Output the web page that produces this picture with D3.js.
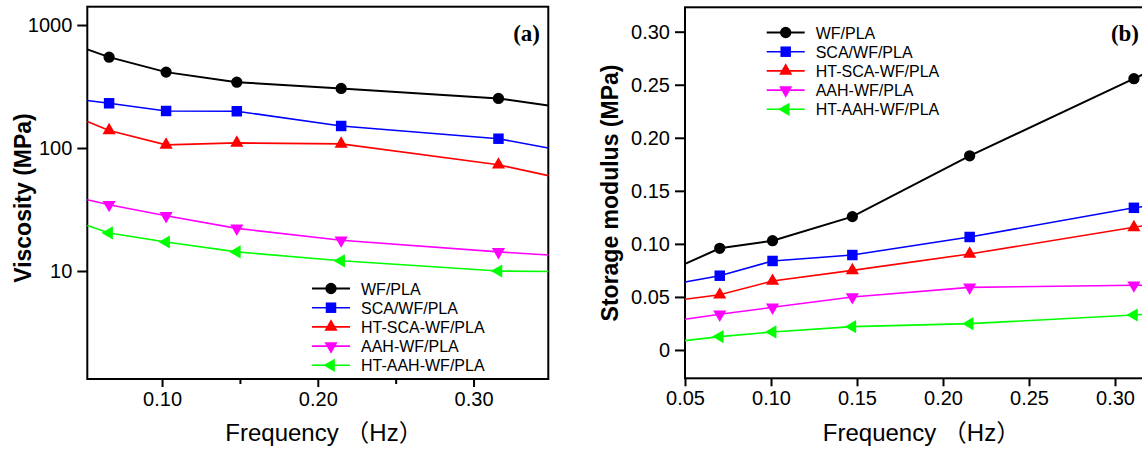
<!DOCTYPE html>
<html>
<head>
<meta charset="utf-8">
<script src="https://cdn.jsdelivr.net/npm/d3@7/dist/d3.min.js"></script>
<style>
    html, body { margin: 0; padding: 0; background: #fff; }
    svg { display: block; }
    text { font-family: "Liberation Sans", Arial, "Noto Sans CJK SC", sans-serif; }
</style>
</head>
<body>
<div id="chart"></div>
<script>
// Rheology of WF/PLA composites - (a) viscosity, (b) storage modulus

// series labels, shared by both panels
const seriesNames = ['WF/PLA', 'SCA/WF/PLA', 'HT-SCA-WF/PLA', 'AAH-WF/PLA', 'HT-AAH-WF/PLA'];

// (a) viscosity, MPa - first and last entries are where the curve meets the frame
const freqA = [0.052, 0.066, 0.1026, 0.148, 0.215, 0.316, 0.348];
const viscWF = [634, 548, 414, 343, 305, 253, 222];
const viscSCA = [243, 231, 200, 199, 151, 119, 100];
const viscHTSCA = [164, 139, 106, 110, 108, 73, 59.6];
const viscAAH = [38, 34.6, 28.1, 22.2, 17.8, 14.3, 13.5];
const viscHTAAH = [23.4, 20.4, 17.2, 14.3, 12.1, 10.0, 9.9];
const viscTicks = [10, 100, 1000];
const freqTicksA = [0.10, 0.20, 0.30];
const freqMinorA = [0.15, 0.25];

// (b) storage modulus, MPa - same layout, curve continues past the cut edge
const freqB = [0.05, 0.0702, 0.1009, 0.1473, 0.2155, 0.311, 0.316];
const modWF = [0.0811, 0.0958, 0.103, 0.1257, 0.183, 0.2557, 0.2595];
const modSCA = [0.064, 0.070, 0.0839, 0.0895, 0.1065, 0.134, 0.135];
const modHTSCA = [0.0478, 0.052, 0.065, 0.075, 0.0905, 0.1156, 0.117];
const modAAH = [0.0289, 0.0336, 0.0402, 0.050, 0.059, 0.061, 0.061];
const modHTAAH = [0.0088, 0.0126, 0.017, 0.022, 0.0248, 0.033, 0.0335];
const modTicks = [0, 0.05, 0.10, 0.15, 0.20, 0.25, 0.30];
const freqTicksB = [0.05, 0.10, 0.15, 0.20, 0.25, 0.30];

const colors = ['#000000', '#0000ff', '#ff0000', '#ff00ff', '#00ff00'];
const lineWidths = [2, 1.6, 1.6, 1.6, 1.6];

// marker shapes: circle, square, up, down, left triangle
const markers = [
    { type: d3.symbolCircle, size: 100, rotate: 0 },
    { type: d3.symbolSquare, size: 110, rotate: 0 },
    { type: d3.symbolTriangle, size: 75, rotate: 0 },
    { type: d3.symbolTriangle, size: 75, rotate: 180 },
    { type: d3.symbolTriangle, size: 75, rotate: -90 }
];

const width = 1142;
const height = 450;

const svg = d3.select('#chart').append('svg')
    .attr('width', width)
    .attr('height', height);

function drawPanel(cfg) {
    const g = svg.append('g');
    const { left, right, top, bottom } = cfg.box;

    const x = d3.scaleLinear().domain(cfg.xDomain).range([left, right]);
    const y = cfg.yScale.range([bottom, top]);

    // frame
    g.append('rect')
        .attr('x', left)
        .attr('y', top)
        .attr('width', right - left)
        .attr('height', bottom - top)
        .attr('fill', 'none')
        .attr('stroke', '#000')
        .attr('stroke-width', 2);

    // x axis ticks (outward)
    g.append('g')
        .attr('transform', `translate(0, ${bottom})`)
        .call(d3.axisBottom(x).tickValues(cfg.xTicks).tickSize(8).tickPadding(5)
            .tickFormat(d3.format('.2f')))
        .call(a => a.select('.domain').remove())
        .call(a => a.selectAll('line').attr('stroke-width', 2))
        .call(a => a.selectAll('text').attr('font-size', '20px').attr('fill', '#000'));

    if (cfg.xMinor) {
        g.append('g')
            .attr('transform', `translate(0, ${bottom})`)
            .call(d3.axisBottom(x).tickValues(cfg.xMinor).tickSize(5).tickFormat(''))
            .call(a => a.select('.domain').remove())
            .call(a => a.selectAll('line').attr('stroke-width', 2));
    }

    // y axis ticks (outward)
    g.append('g')
        .attr('transform', `translate(${left}, 0)`)
        .call(d3.axisLeft(y).tickValues(cfg.yTicks).tickSize(10).tickPadding(5)
            .tickFormat(cfg.yFormat))
        .call(a => a.select('.domain').remove())
        .call(a => a.selectAll('line').attr('stroke-width', 2))
        .call(a => a.selectAll('text').attr('font-size', '20px').attr('fill', '#000'));

    // curves
    const line = d3.line()
        .x(d => x(d[0]))
        .y(d => y(d[1]));

    cfg.series.forEach((vals, i) => {
        const pts = cfg.freq.map((f, j) => [f, vals[j]]);
        g.append('path')
            .datum(pts)
            .attr('d', line)
            .attr('fill', 'none')
            .attr('stroke', colors[i])
            .attr('stroke-width', lineWidths[i]);

        // markers only on measured points, not on the frame edges
        const m = markers[i];
        g.selectAll(null)
            .data(pts.slice(1, 6))
            .enter()
            .append('path')
            .attr('d', d3.symbol().type(m.type).size(m.size))
            .attr('transform', d => `translate(${x(d[0])}, ${y(d[1])}) rotate(${m.rotate})`)
            .attr('fill', colors[i]);
    });

    // legend
    const legend = g.append('g')
        .attr('transform', `translate(${cfg.legend.x}, ${cfg.legend.y})`);

    const items = legend.selectAll('.legend-item')
        .data(seriesNames)
        .enter()
        .append('g')
        .attr('class', 'legend-item')
        .attr('transform', (d, i) => `translate(0, ${i * 19.2})`);

    items.append('line')
        .attr('x1', 0)
        .attr('x2', 38)
        .attr('stroke', (d, i) => colors[i])
        .attr('stroke-width', (d, i) => lineWidths[i]);

    items.append('path')
        .attr('d', (d, i) => d3.symbol().type(markers[i].type).size(markers[i].size)())
        .attr('transform', (d, i) => `translate(19, 0) rotate(${markers[i].rotate})`)
        .attr('fill', (d, i) => colors[i]);

    items.append('text')
        .attr('x', 49)
        .attr('y', 6)
        .attr('font-size', '16px')
        .attr('fill', '#000')
        .text(d => d);

    // panel tag
    g.append('text')
        .attr('x', cfg.tag.x)
        .attr('y', cfg.tag.y)
        .attr('text-anchor', 'end')
        .style('font-family', '"Liberation Serif", "Times New Roman", serif')
        .attr('font-weight', 'bold')
        .attr('font-size', '23px')
        .text(cfg.tag.text);

    // axis titles
    g.append('text')
        .attr('x', cfg.xTitleX)
        .attr('y', 441)
        .attr('text-anchor', 'middle')
        .attr('font-size', '24px')
        .attr('fill', '#000')
        .text('Frequency （Hz）');

    g.append('text')
        .attr('transform', `translate(${cfg.yTitle.x}, ${cfg.yTitle.y}) rotate(-90)`)
        .attr('text-anchor', 'middle')
        .attr('font-size', '23px')
        .attr('font-weight', 'bold')
        .attr('fill', '#000')
        .text(cfg.yTitle.text);
}

// (a) viscosity - log scale
drawPanel({
    box: { left: 87.3, right: 548.3, top: 6.7, bottom: 379 },
    xDomain: [0.052, 0.348],
    yScale: d3.scaleLog().domain([1.324, 1409]),
    xTicks: freqTicksA,
    xMinor: freqMinorA,
    yTicks: viscTicks,
    yFormat: d3.format('d'),
    freq: freqA,
    series: [viscWF, viscSCA, viscHTSCA, viscAAH, viscHTAAH],
    legend: { x: 312, y: 288.5 },
    tag: { x: 540, y: 41, text: '(a)' },
    xTitleX: 324,
    yTitle: { x: 31, y: 198, text: 'Viscosity (MPa)' }
});

// (b) storage modulus - linear, right side cut off by the image edge
drawPanel({
    box: { left: 685, right: 1158, top: 7.3, bottom: 378.3 },
    xDomain: [0.05, 0.325],
    yScale: d3.scaleLinear().domain([-0.0267, 0.323]),
    xTicks: freqTicksB,
    xMinor: null,
    yTicks: modTicks,
    yFormat: d => d === 0 ? '0' : d3.format('.2f')(d),
    freq: freqB,
    series: [modWF, modSCA, modHTSCA, modAAH, modHTAAH],
    legend: { x: 766.7, y: 32.5 },
    tag: { x: 1139, y: 41, text: '(b)' },
    xTitleX: 921.5,
    yTitle: { x: 618, y: 193, text: 'Storage modulus (MPa)' }
});
</script>
</body>
</html>
